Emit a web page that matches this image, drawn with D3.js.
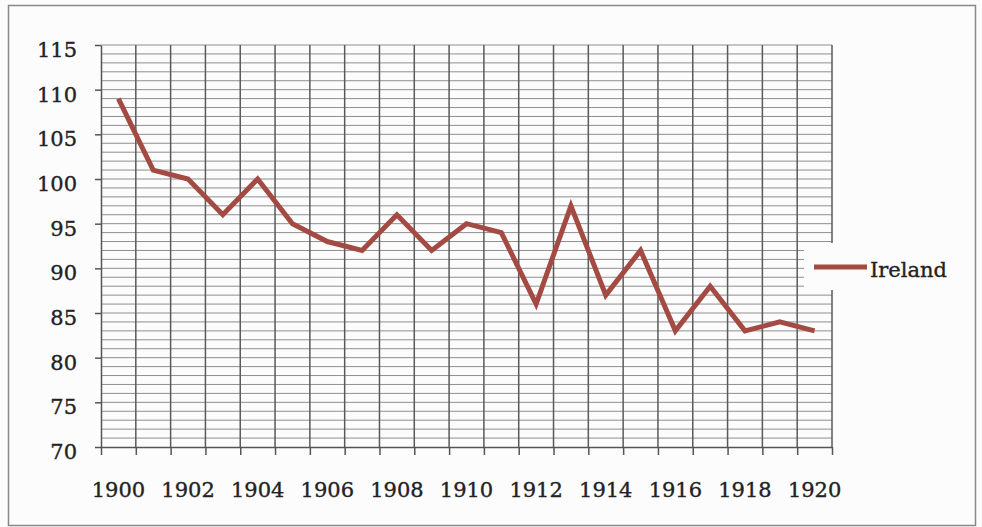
<!DOCTYPE html>
<html>
<head>
<meta charset="utf-8">
<script src="https://cdn.jsdelivr.net/npm/d3@7"></script>
<style>
  body { margin: 0; background: #fcfcfc; }
  text { font-family: "DejaVu Serif", serif; fill: #222; }
</style>
</head>
<body>
<div id="chart"></div>
<script>
(function() {
  'use strict';

  var years = ['1900', '1901', '1902', '1903', '1904', '1905', '1906', '1907', '1908', '1909', '1910',
    '1911', '1912', '1913', '1914', '1915', '1916', '1917', '1918', '1919', '1920'];
  var ireland = [109, 101, 100, 96, 100, 95, 93, 92, 96, 92, 95, 94, 86, 97, 87, 92, 83, 88, 83, 84, 83];
  var yTicks = [70, 75, 80, 85, 90, 95, 100, 105, 110, 115];
  var xLabels = ['1900', '1902', '1904', '1906', '1908', '1910', '1912', '1914', '1916', '1918', '1920'];
  var seriesName = 'Ireland';

  var svgW = 982,
    svgH = 527,
    left = 101,
    right = 832,
    top = 45,
    bottom = 447,
    lineColor = '#a34b43',
    fontSize = '21px';

  var svg = d3.select('#chart')
    .append('svg')
    .attr('width', svgW)
    .attr('height', svgH);

  // outer frame
  svg.append('rect')
    .attr('x', 8.5).attr('y', 5.5)
    .attr('width', 967).attr('height', 520)
    .attr('fill', '#fcfcfc')
    .attr('stroke', '#888')
    .attr('stroke-width', 1.5);

  var x = d3.scaleBand().domain(years).range([left, right]).padding(0);
  var xIdx = d3.scaleLinear().domain([0, years.length]).range([left, right]);
  var y = d3.scaleLinear().domain([70, 115]).range([bottom, top]);

  // horizontal minor gridlines, one per unit
  svg.append('g')
    .selectAll('line')
    .data(d3.range(71, 116))
    .enter()
    .append('line')
    .attr('x1', left).attr('x2', right)
    .attr('y1', function(d) { return y(d); })
    .attr('y2', function(d) { return y(d); })
    .attr('stroke', '#8f8f8f')
    .attr('stroke-width', 1);

  // vertical gridlines at category boundaries
  svg.append('g')
    .selectAll('line')
    .data(d3.range(1, years.length + 1))
    .enter()
    .append('line')
    .attr('x1', function(d) { return xIdx(d); })
    .attr('x2', function(d) { return xIdx(d); })
    .attr('y1', top).attr('y2', bottom)
    .attr('stroke', '#5a5a5a')
    .attr('stroke-width', 1.5);

  // y axis
  var yAxis = svg.append('g')
    .attr('transform', 'translate(' + left + ',0)')
    .call(d3.axisLeft(y).tickValues(yTicks).tickSize(6).tickSizeOuter(0).tickPadding(18));
  yAxis.selectAll('text')
    .attr('font-size', fontSize)
    .attr('font-family', '"DejaVu Serif", serif')
    .attr('fill', '#222')
    .attr('stroke', '#222')
    .attr('stroke-width', 0.35)
    .attr('dy', '0.55em');

  // x axis ticks at boundaries
  svg.append('g')
    .attr('transform', 'translate(0,' + bottom + ')')
    .call(d3.axisBottom(xIdx).tickValues(d3.range(0, years.length + 1)).tickFormat('').tickSize(8).tickSizeOuter(0));

  // x labels every other year
  var xAxis = svg.append('g')
    .attr('transform', 'translate(0,' + bottom + ')')
    .call(d3.axisBottom(x).tickValues(xLabels).tickSize(0).tickPadding(50));
  xAxis.select('.domain').remove();
  xAxis.selectAll('text')
    .attr('font-size', fontSize)
    .attr('font-family', '"DejaVu Serif", serif')
    .attr('fill', '#222')
    .attr('stroke', '#222')
    .attr('stroke-width', 0.35)
    .attr('dy', '0');

  svg.selectAll('.domain, .tick line')
    .attr('stroke', '#555')
    .attr('stroke-width', 1.5);

  // legend background covers gridlines
  svg.append('rect')
    .attr('x', 804).attr('y', 243)
    .attr('width', 160).attr('height', 47)
    .attr('fill', '#fcfcfc');

  var line = d3.line()
    .x(function(d, i) { return x(years[i]) + x.bandwidth() / 2; })
    .y(function(d) { return y(d); });

  svg.append('path')
    .datum(ireland)
    .attr('d', line)
    .attr('fill', 'none')
    .attr('stroke', lineColor)
    .attr('stroke-width', 5)
    .attr('stroke-linejoin', 'miter');

  // legend
  svg.append('line')
    .attr('x1', 814).attr('x2', 867)
    .attr('y1', 267).attr('y2', 267)
    .attr('stroke', lineColor)
    .attr('stroke-width', 5);
  svg.append('text')
    .attr('x', 870).attr('y', 277)
    .attr('font-size', fontSize)
    .attr('stroke', '#222')
    .attr('stroke-width', 0.35)
    .text(seriesName);
}());
</script>
</body>
</html>
